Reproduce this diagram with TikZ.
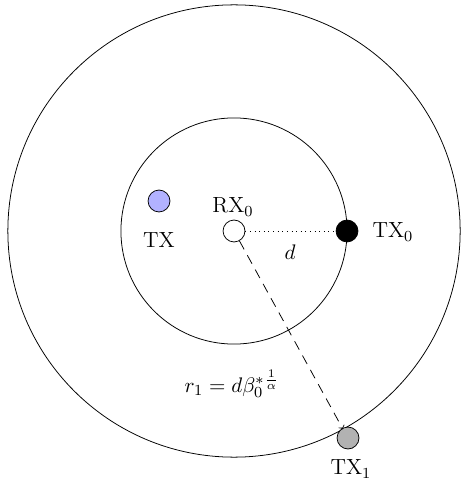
\documentclass[tikz,border=0pt]{standalone}
\usetikzlibrary{calc}
\begin{document}
\begin{tikzpicture}[x=0.52pt,y=-0.52pt,
  dev/.style={circle,draw,inner sep=0pt,minimum size=11.4pt},
  lbl/.style={inner sep=0pt,font=\fontsize{11.4pt}{14pt}\selectfont}]
\useasboundingbox (0,0) rectangle (460,488);
\coordinate (c) at (234,231);
\draw (c) circle[radius=58.8pt];
\draw (c) circle[radius=117.6pt];
\node[dev,fill=white] (rx) at (c) {};
\node[dev,fill=black] (tx0) at (347,231) {};
\node[dev,fill=blue!30] (tx) at (159,201) {};
\node[dev,fill=gray!60] (tx1) at (348,438) {};
\coordinate (e) at ($(c)+(-61.2:117.6pt)$);
\draw[dotted] (rx) -- (tx0);
\draw[dash pattern=on 5pt off 3.5pt,->] (rx) -- (e);
\node[lbl] (lrx) at (233,207) {RX$_0$};
\node[lbl] (ltx) at (159,240) {TX};
\node[lbl] (ltx0) at (393,232) {TX$_0$};
\node[lbl] (ltx1) at (351,469) {TX$_1$};
\node[lbl] (ld) at (290,252) {$d$};
\node[lbl] (lr) at (232,384) {$r_1 = d{\beta_0^{*}}^{\frac{1}{\alpha}}$};
\end{tikzpicture}
\end{document}
